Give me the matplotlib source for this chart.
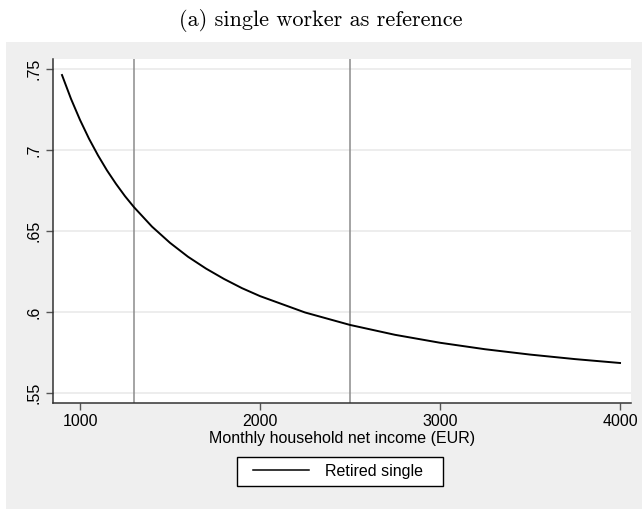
import matplotlib
matplotlib.use("Agg")
import matplotlib.pyplot as plt
from matplotlib.patches import Rectangle

# income grid (EUR) and predicted share
income = [900, 950, 1000, 1050, 1100, 1150, 1200, 1250, 1300, 1400, 1500, 1600, 1700,
          1800, 1900, 2000, 2250, 2500, 2750, 3000, 3250, 3500, 3750, 4000]
retired_single = [0.7463, 0.7316, 0.7186, 0.7070, 0.6967, 0.6874, 0.6791, 0.6715, 0.6647,
                  0.6527, 0.6427, 0.6341, 0.6268, 0.6204, 0.6147, 0.6098, 0.5997, 0.5920,
                  0.5859, 0.5810, 0.5770, 0.5737, 0.5709, 0.5685]
thresholds = [1300, 2500]
xticks = [1000, 2000, 3000, 4000]
yticks = [0.55, 0.6, 0.65, 0.7, 0.75]
ytick_labels = [".55", ".6", ".65", ".7", ".75"]

plt.rcParams["font.family"] = ["Liberation Sans", "DejaVu Sans"]

W, H = 642, 509
fig = plt.figure(figsize=(W / 100, H / 100), dpi=100)
fig.patch.set_facecolor("white")
fig.patches.append(Rectangle((6 / W, 0), 1, (H - 42) / H, transform=fig.transFigure,
                             facecolor="#efefef", edgecolor="none", zorder=-10))
# legend box drawn by hand (Stata leaves room on the right)
fig.patches.append(Rectangle((237 / W, 1 - 486 / H), (443 - 237) / W, 29 / H,
                             transform=fig.transFigure, facecolor="white",
                             edgecolor="black", lw=1, zorder=-5))

fig.text(0.5, 1 - 20 / H, "(a) single worker as reference", ha="center", va="center",
         fontsize=16, family="cmr10")

ax = fig.add_axes([53 / W, 1 - 403 / H, (631 - 53) / W, (403 - 59) / H])
ax.set_facecolor("white")
ax.plot(income, retired_single, color="black", lw=1.4, label="Retired single", zorder=3,
        solid_joinstyle="round")
for t in thresholds:
    ax.axvline(t, color="#8c8c8c", lw=1.1, zorder=2)

ax.set_xlim(850, 4061)
ax.set_ylim(0.5438, 0.7562)
ax.set_xticks(xticks)
ax.set_yticks(yticks)
ax.set_yticklabels(ytick_labels, rotation=90, va="center")
ax.grid(axis="y", color="#e8e8e8", lw=1.1, zorder=1)
ax.set_axisbelow(True)
for s in ["top", "right"]:
    ax.spines[s].set_visible(False)
for s in ["left", "bottom"]:
    ax.spines[s].set_color("#333333")
    ax.spines[s].set_linewidth(1.1)
ax.tick_params(direction="out", length=5, width=1, color="#555555", labelsize=11.5,
               labelcolor="black", pad=3)
ax.set_xlabel("Monthly household net income (EUR)", fontsize=11.5, labelpad=1)

leg = fig.legend(loc="center left", bbox_to_anchor=(245 / W, 1 - 471.5 / H), fontsize=11.5,
                 frameon=False, borderpad=0, handlelength=3.5, handletextpad=1.0)
for line in leg.get_lines():
    line.set_linewidth(1.1)

fig.savefig("out.png", dpi=100, facecolor=fig.get_facecolor())
